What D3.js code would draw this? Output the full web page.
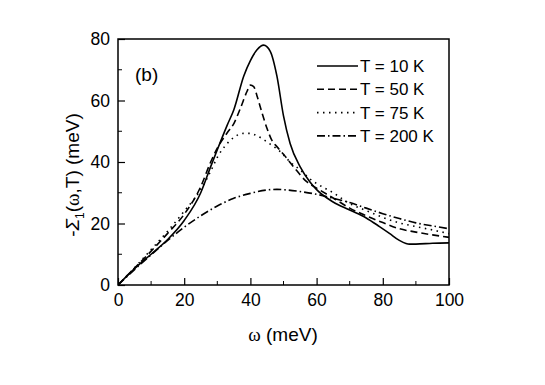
<!DOCTYPE html>
<meta charset="utf-8">
<script src="https://d3js.org/d3.v7.min.js"></script>
<style>
body {margin: 0; background: white;}
svg text {font-family: "Liberation Sans", Arial, sans-serif; fill: black;}
</style>
<svg width="545" height="385"></svg>
<script>
// omega (meV) and -Sigma1 (meV)
var w10   = [0, 5, 10, 15, 20, 25, 28, 30, 33, 35, 38, 40, 42, 44, 46, 48, 50, 52, 55, 58, 60, 65, 70, 75, 79, 82, 85, 87, 88, 90, 95, 100];
var s10   = [0, 5.3, 10, 14.8, 21, 30, 38.5, 44, 52, 57, 68, 73, 76.5, 78, 76, 68, 55, 46, 38.5, 33.5, 31, 27, 24.4, 21.8, 19, 16.8, 14.5, 13.5, 13.3, 13.3, 13.6, 13.7];

var w50   = [0, 5, 10, 15, 20, 25, 28, 30, 33, 35, 37, 39, 40, 41, 42, 43.5, 45, 46.5, 48, 50, 53, 57, 60, 65, 70, 75, 80, 85, 90, 95, 100];
var s50   = [0, 5.5, 11, 16.8, 23, 32, 40, 44.5, 49.5, 52.5, 57.5, 63, 65, 64.5, 61.5, 56, 51, 47, 45, 42.5, 38.5, 33.6, 31.5, 28.3, 25, 22.5, 20.3, 18.3, 17.2, 16.3, 15.5];

var w75   = [0, 5, 10, 15, 20, 25, 28, 30, 33, 35, 38, 40, 42, 44, 46, 49, 52, 55, 58, 60, 65, 70, 75, 80, 85, 90, 95, 100];
var s75   = [0, 5.6, 11.5, 17.5, 24, 31, 37, 41.5, 46, 48, 49.3, 49.3, 48.5, 47.3, 45.8, 43.4, 40, 37.5, 34.5, 33, 30, 26.5, 24.2, 22, 20.2, 19, 17.9, 16.7];

var w200  = [0, 5, 10, 15, 20, 25, 30, 35, 40, 45, 48, 50, 55, 60, 65, 70, 75, 80, 85, 90, 95, 100];
var s200  = [0, 5, 9.8, 14.5, 18.8, 22.5, 25.7, 28.2, 29.8, 30.9, 31.1, 31, 30.4, 29.5, 28.2, 26.8, 25, 23.2, 21.6, 20.2, 19.2, 18.3];

var seriesNames = ["T = 10 K", "T = 50 K", "T = 75 K", "T = 200 K"];
var dashes = ["none", "7,4", "1.5,4.5", "8,3,1.5,3"];
var xTicks = [0, 20, 40, 60, 80, 100];
var yTicks = [0, 20, 40, 60, 80];

var svg = d3.select("svg");
var pLeft = 118, pRight = 449, pTop = 39, pBottom = 285;

var x = d3.scaleLinear().domain([0, 100]).range([pLeft, pRight]);
var y = d3.scaleLinear().domain([0, 80]).range([pBottom, pTop]);

var series = [[w10, s10], [w50, s50], [w75, s75], [w200, s200]].map(function(p) {
  return p[0].map(function(v, i) { return [v, p[1][i]]; });
});

var line = d3.line()
    .x(function(d) { return x(d[0]); })
    .y(function(d) { return y(d[1]); })
    .curve(d3.curveMonotoneX);

svg.append("clipPath").attr("id", "clip")
  .append("rect").attr("x", pLeft).attr("y", pTop).attr("width", pRight - pLeft).attr("height", pBottom - pTop);

svg.append("g").attr("clip-path", "url(#clip)")
  .selectAll("path").data(series).enter().append("path")
    .attr("d", line)
    .attr("fill", "none")
    .attr("stroke", "black")
    .attr("stroke-width", 1.6)
    .attr("stroke-dasharray", function(d, i) { return dashes[i]; });

// minor ticks
var xMinor = d3.range(10, 100, 20), yMinor = d3.range(10, 80, 20);
svg.append("g").selectAll("line").data(xMinor).enter().append("line")
  .attr("x1", x).attr("x2", x).attr("y1", pBottom).attr("y2", pBottom - 4)
  .attr("stroke", "black").attr("stroke-width", 1);
svg.append("g").selectAll("line").data(yMinor).enter().append("line")
  .attr("y1", y).attr("y2", y).attr("x1", pLeft).attr("x2", pLeft + 4)
  .attr("stroke", "black").attr("stroke-width", 1);

svg.append("g").attr("transform", "translate(0," + pBottom + ")")
  .call(d3.axisBottom(x).tickValues(xTicks).tickSizeInner(-7).tickSizeOuter(0).tickPadding(9));
svg.append("g").attr("transform", "translate(" + pLeft + ",0)")
  .call(d3.axisLeft(y).tickValues(yTicks).tickSizeInner(-7).tickSizeOuter(0).tickPadding(8));
svg.selectAll(".domain").remove();
svg.selectAll(".tick line").attr("stroke-width", 1.2);
svg.selectAll(".tick text").attr("font-size", 17.5).attr("font-family", null);

// frame
svg.append("rect").attr("x", pLeft).attr("y", pTop).attr("width", pRight - pLeft).attr("height", pBottom - pTop)
  .attr("fill", "none").attr("stroke", "black").attr("stroke-width", 1.5);

// panel label
svg.append("text").attr("x", 135).attr("y", 81).attr("font-size", 19).text("(b)");

// legend
var leg = svg.append("g").selectAll("g").data(seriesNames).enter().append("g")
  .attr("transform", function(d, i) { return "translate(317," + (66 + i * 23.3) + ")"; });
leg.append("line").attr("x1", 0).attr("x2", 41).attr("y1", 0).attr("y2", 0)
  .attr("stroke", "black").attr("stroke-width", 1.6)
  .attr("stroke-dasharray", function(d, i) { return dashes[i]; });
leg.append("text").attr("x", 43).attr("y", 6).attr("font-size", 17).text(function(d) { return d; });

// axis titles
var xt = svg.append("text").attr("x", 283).attr("y", 341).attr("text-anchor", "middle").attr("font-size", 19);
xt.append("tspan").attr("font-family", "Liberation Serif").text("\u03C9");
xt.append("tspan").text(" (meV)");

var yt = svg.append("text").attr("transform", "translate(79,175) rotate(-90)")
  .attr("text-anchor", "middle").attr("font-size", 19);
yt.append("tspan").text("-");
yt.append("tspan").attr("font-style", "italic").text("\u03A3");
yt.append("tspan").attr("font-size", 12).attr("dy", 5).text("1");
yt.append("tspan").attr("dy", -5).text("(");
yt.append("tspan").attr("font-family", "Liberation Serif").text("\u03C9");
yt.append("tspan").text(",T) (meV)");
</script>
